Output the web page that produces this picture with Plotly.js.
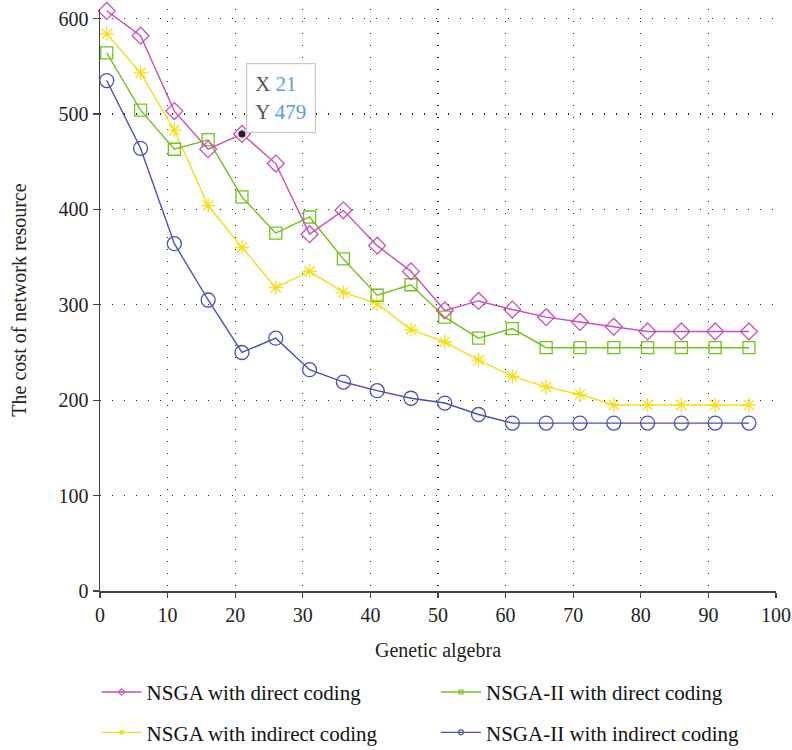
<!DOCTYPE html>
<html>
<head>
<meta charset="utf-8">
<script src="https://cdn.plot.ly/plotly-3.0.1.min.js"></script>
<style>html,body{margin:0;padding:0;background:#fff;}#chart{width:792px;height:750px;}</style>
</head>
<body>
<div id="chart"></div>
<script>
// Generations (x values)
const generations = [1, 6, 11, 16, 21, 26, 31, 36, 41, 46, 51, 56, 61, 66, 71, 76, 81, 86, 91, 96];
// Series values
const nsgaDirect    = [608, 582, 503, 463, 479, 448, 374, 399, 362, 335, 294, 304, 295, 287, 282, 277, 272, 272, 272, 272];
const nsga2Direct   = [564, 504, 463, 473, 413, 375, 392, 348, 310, 321, 287, 265, 275, 255, 255, 255, 255, 255, 255, 255];
const nsgaIndirect  = [584, 543, 483, 404, 360, 318, 335, 313, 301, 274, 261, 242, 225, 214, 206, 195, 195, 195, 195, 195];
const nsga2Indirect = [535, 464, 364, 305, 250, 265, 232, 219, 210, 202, 197, 185, 176, 176, 176, 176, 176, 176, 176, 176];
const seriesNames = ["NSGA with direct coding", "NSGA-II with direct coding", "NSGA with indirect coding", "NSGA-II with indirect coding"];
const xTicks = [0, 10, 20, 30, 40, 50, 60, 70, 80, 90, 100];
const yTicks = [0, 100, 200, 300, 400, 500, 600];
const hoverIndex = 4;

const font = "Liberation Serif, DejaVu Serif, serif";
const cMag = "#c94fb8", cGreen = "#74c11c", cYellow = "#f3df1a", cBlue = "#4a50b4";

function tr(y, color, symbol, size) {
  return {
    x: generations, y: y, type: "scatter", mode: "lines+markers",
    line: {color: color, width: 1.4},
    marker: {symbol: symbol, size: size, color: color, line: {color: color, width: 1.3}},
    showlegend: false, cliponaxis: false, hoverinfo: "none"
  };
}
function leg(name, color, symbol, size, legend, group) {
  return {
    x: [null], y: [null], name: name, type: "scatter", mode: "lines+markers",
    line: {color: color, width: 1.4},
    marker: {symbol: symbol, size: size, color: color, line: {color: color, width: 1.1}},
    legend: legend, legendgroup: group, hoverinfo: "none"
  };
}

const data = [
  tr(nsga2Indirect, cBlue, "circle-open", 14),
  tr(nsgaIndirect, cYellow, "asterisk-open", 12),
  tr(nsga2Direct, cGreen, "square-open", 12),
  tr(nsgaDirect, cMag, "diamond-open", 13),
  leg(seriesNames[0], cMag, "diamond-open", 5, "legend", "a"),
  leg(seriesNames[2], cYellow, "asterisk-open", 5, "legend", "c"),
  leg(seriesNames[1], cGreen, "square-open", 4, "legend2", "b"),
  leg(seriesNames[3], cBlue, "circle-open", 5, "legend2", "d"),
  {
    x: [generations[hoverIndex]], y: [nsgaDirect[hoverIndex]], type: "scatter", mode: "markers",
    marker: {size: 9, color: "#222", line: {color: "#f4dce8", width: 2}},
    showlegend: false, hoverinfo: "none", cliponaxis: false
  }
];

const legendCommon = {
  orientation: "v", yanchor: "top", xanchor: "left", traceorder: "grouped",
  font: {family: font, size: 21, color: "#111"}, bgcolor: "rgba(0,0,0,0)",
  tracegroupgap: 10, itemwidth: 40
};

const layout = {
  width: 792, height: 750,
  margin: {l: 100, r: 16, t: 9, b: 159, autoexpand: false},
  paper_bgcolor: "#fff", plot_bgcolor: "#fff",
  font: {family: font, size: 19, color: "#222"},
  showlegend: true,
  hovermode: false,
  xaxis: {
    range: [0, 100], tickvals: xTicks, ticktext: xTicks.map(String),
    showline: true, linecolor: "#444", linewidth: 1.5,
    ticks: "outside", ticklen: 5, tickcolor: "#444", tickwidth: 1.3,
    showgrid: true, gridcolor: "#222", gridwidth: 1.3, griddash: "1.3px,10.7px",
    zeroline: false, tickfont: {family: font, size: 20, color: "#222"},
    title: {text: "Genetic algebra", font: {family: font, size: 20, color: "#222"}, standoff: 18}
  },
  yaxis: {
    range: [0, 610], tickvals: yTicks, ticktext: yTicks.map(String),
    showline: true, linecolor: "#444", linewidth: 1.5,
    ticks: "outside", ticklen: 6, tickcolor: "#444", tickwidth: 1.3,
    showgrid: true, gridcolor: "#222", gridwidth: 1.3, griddash: "1.3px,10.7px",
    zeroline: false, tickfont: {family: font, size: 20, color: "#222"},
    title: {text: "The cost of network resource", font: {family: font, size: 20, color: "#222"}, standoff: 26}
  },
  legend: Object.assign({x: -0.005, y: -0.139}, legendCommon),
  legend2: Object.assign({x: 0.497, y: -0.139}, legendCommon),
  annotations: [{
    xref: "x", yref: "y", x: 21.6, y: 553, xanchor: "left", yanchor: "top",
    text: "X <span style='color:#5b9bd5'>" + generations[hoverIndex] + "</span><br>Y <span style='color:#5b9bd5'>" + nsgaDirect[hoverIndex] + "</span>",
    showarrow: false, align: "left",
    font: {family: font, size: 21, color: "#555"},
    bgcolor: "rgba(255,255,255,0.95)", bordercolor: "#c8c8c8", borderwidth: 1.2, borderpad: 8
  }]
};

Plotly.newPlot("chart", data, layout, {displayModeBar: false, staticPlot: true});
</script>
</body>
</html>
